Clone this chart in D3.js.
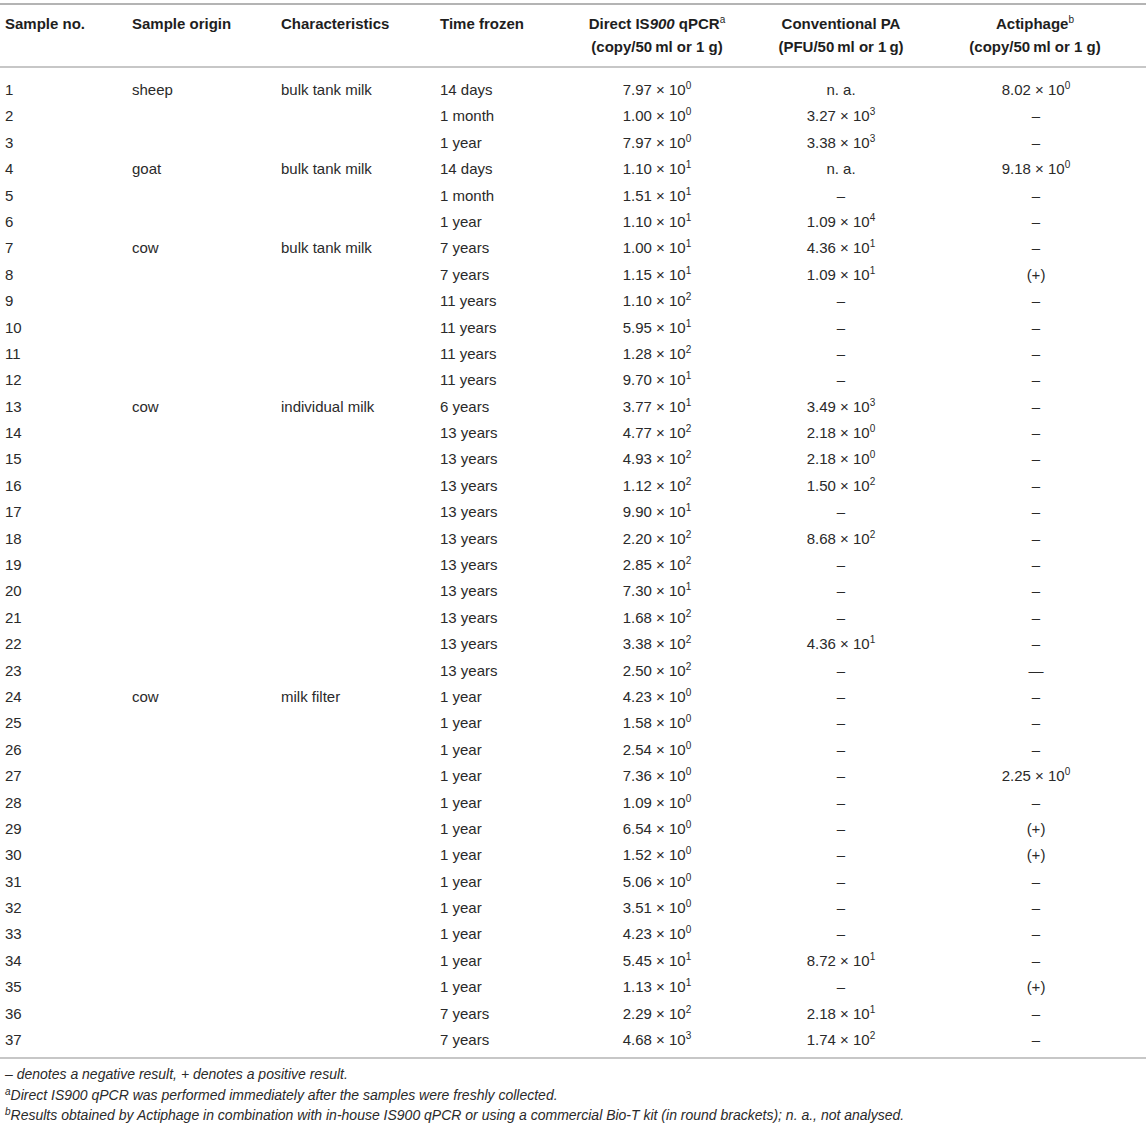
<!DOCTYPE html>
<html><head><meta charset="utf-8">
<script src="https://cdn.jsdelivr.net/npm/d3@7/dist/d3.min.js"></script>
<style>body{margin:0;background:#fff}svg{display:block}</style>
</head><body><div id="chart"></div>
<script>
const sampleNo = ["1","2","3","4","5","6","7","8","9","10","11","12","13","14","15","16","17","18","19","20","21","22","23","24","25","26","27","28","29","30","31","32","33","34","35","36","37"];
const sampleOrigin = ["sheep","","","goat","","","cow","","","","","","cow","","","","","","","","","","","cow","","","","","","","","","","","","",""];
const characteristics = ["bulk tank milk","","","bulk tank milk","","","bulk tank milk","","","","","","individual milk","","","","","","","","","","","milk filter","","","","","","","","","","","","",""];
const timeFrozen = ["14 days","1 month","1 year","14 days","1 month","1 year","7 years","7 years","11 years","11 years","11 years","11 years","6 years","13 years","13 years","13 years","13 years","13 years","13 years","13 years","13 years","13 years","13 years","1 year","1 year","1 year","1 year","1 year","1 year","1 year","1 year","1 year","1 year","1 year","1 year","7 years","7 years"];
const directQPCR = ["7.97e0","1.00e0","7.97e0","1.10e1","1.51e1","1.10e1","1.00e1","1.15e1","1.10e2","5.95e1","1.28e2","9.70e1","3.77e1","4.77e2","4.93e2","1.12e2","9.90e1","2.20e2","2.85e2","7.30e1","1.68e2","3.38e2","2.50e2","4.23e0","1.58e0","2.54e0","7.36e0","1.09e0","6.54e0","1.52e0","5.06e0","3.51e0","4.23e0","5.45e1","1.13e1","2.29e2","4.68e3"];
const conventionalPA = ["n. a.","3.27e3","3.38e3","n. a.","–","1.09e4","4.36e1","1.09e1","–","–","–","–","3.49e3","2.18e0","2.18e0","1.50e2","–","8.68e2","–","–","–","4.36e1","–","–","–","–","–","–","–","–","–","–","–","8.72e1","–","2.18e1","1.74e2"];
const actiphage = ["8.02e0","–","–","9.18e0","–","–","–","(+)","–","–","–","–","–","–","–","–","–","–","–","–","–","–","—","–","–","–","2.25e0","–","(+)","(+)","–","–","–","–","(+)","–","–"];
const footnotes = [
  [{t:"– denotes a negative result, + denotes a positive result."}],
  [{t:"a",sup:true},{t:"Direct IS900 qPCR was performed immediately after the samples were freshly collected."}],
  [{t:"b",sup:true},{t:"Results obtained by Actiphage in combination with in-house IS900 qPCR or using a commercial Bio-T kit (in round brackets); n. a., not analysed."}]
];

const W = 1146, H = 1130;
const svg = d3.select("#chart").append("svg").attr("width", W).attr("height", H)
  .style("font-family", "'Liberation Sans', Arial, Helvetica, sans-serif");

const textCol = "#2a2a2a";
const lineCol = "#b4b4b4";

// row scale
const yRow = d3.scaleLinear().domain([0, 36]).range([89.5, 1039.5]);

// lines
[[4,2],[67,1.5],[1058,1.5]].forEach(([y,w]) => {
  svg.append("line").attr("x1",0).attr("x2",W).attr("y1",y).attr("y2",y)
    .attr("stroke",lineCol).attr("stroke-width",w);
});

// headers
const hdr = svg.append("g").attr("font-weight","bold").attr("font-size",15).attr("fill","#1e1e1e");
[["Sample no.",5],["Sample origin",132],["Characteristics",281],["Time frozen",440]].forEach(([t,x]) => {
  hdr.append("text").attr("x",x).attr("y",28.5).text(t);
});
function hdr2(x, line1, line2) {
  const t = hdr.append("text").attr("x",x).attr("y",28.5).attr("text-anchor","middle");
  line1.forEach(p => {
    const s = t.append("tspan").text(p.t);
    if (p.i) s.attr("font-style","italic");
    if (p.sup) s.attr("font-size",10).attr("font-weight","normal").attr("dy",-6);
  });
  hdr.append("text").attr("x",x).attr("y",51.5).attr("text-anchor","middle").text(line2);
}
hdr2(657, [{t:"Direct IS"},{t:"900",i:true},{t:" qPCR"},{t:"a",sup:true}], "(copy/50\u2009ml or 1 g)");
hdr2(841, [{t:"Conventional PA"}], "(PFU/50\u2009ml or 1\u2009g)");
hdr2(1035, [{t:"Actiphage"},{t:"b",sup:true}], "(copy/50\u2009ml or 1 g)");

// body
const body = svg.append("g").attr("font-size",15).attr("fill",textCol);
function plain(arr, x, anchor) {
  body.selectAll(null).data(arr).enter().append("text")
    .attr("x", x).attr("y", (d,i) => yRow(i) + 5.5)
    .attr("text-anchor", anchor).text(d => d);
}
plain(sampleNo, 5, "start");
plain(sampleOrigin, 132, "start");
plain(characteristics, 281, "start");
plain(timeFrozen, 440, "start");

function sci(arr, x) {
  arr.forEach((d,i) => {
    const t = body.append("text").attr("x", x).attr("y", yRow(i) + 5.5).attr("text-anchor","middle");
    const m = /^([\d.]+)e(\d+)$/.exec(d);
    if (m) {
      t.append("tspan").text(m[1] + " \u00d7 10");
      t.append("tspan").attr("font-size",10).attr("dy",-6).text(m[2]);
    } else {
      t.text(d);
    }
  });
}
sci(directQPCR, 657);
sci(conventionalPA, 841);
sci(actiphage, 1036);

// footnotes
const fn = svg.append("g").attr("font-size",14).attr("font-style","italic").attr("fill",textCol);
const fnY = [1079, 1100, 1120];
footnotes.forEach((parts, i) => {
  const t = fn.append("text").attr("x",5).attr("y",fnY[i]);
  parts.forEach(p => {
    const s = t.append("tspan").text(p.t);
    if (p.sup) s.attr("font-size",10).attr("dy",-5);
    else if (parts[0].sup) s.attr("dy",5);
  });
});
</script></body></html>
